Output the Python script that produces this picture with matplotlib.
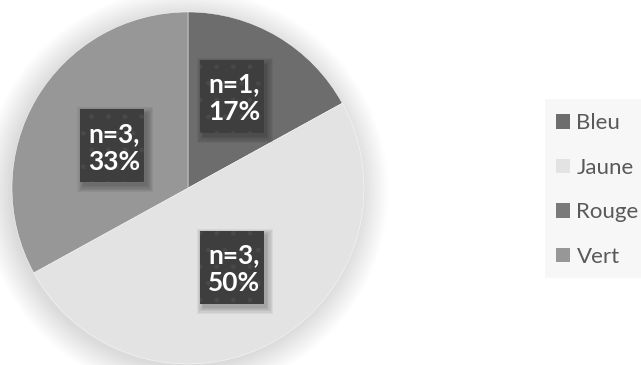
import matplotlib
matplotlib.use("Agg")
import matplotlib.pyplot as plt
from matplotlib.patches import Rectangle, Circle
import numpy as np

# Data
categories = ["Bleu", "Jaune", "Rouge", "Vert"]
percents = [17, 50, 0, 33]
counts = [1, 3, 0, 3]
colors = ["#6d6d6d", "#e3e3e3", "#7a7a7a", "#979797"]

# Label anchor points (axes data units, pie radius = 1)
label_pos = {"Bleu": (0.25, 0.52), "Jaune": (0.25, -0.45), "Vert": (-0.43, 0.24)}

W, H, DPI = 641, 365, 100
fig = plt.figure(figsize=(W / DPI, H / DPI), dpi=DPI)
fig.patch.set_facecolor("white")

cx, cy, r = 188, 188, 176
ax = fig.add_axes([(cx - r) / W, (H - cy - r) / H, 2 * r / W, 2 * r / H])
ax.set_xlim(-1, 1)
ax.set_ylim(-1, 1)
ax.axis("off")

# Soft outer shadow under the pie
for i in range(18):
    rr = 0.99 + (i + 1) * 0.009
    ax.add_patch(Circle((-0.015, -0.02), rr, facecolor="black", alpha=0.009,
                        edgecolor="none", clip_on=False, zorder=0))

wedges, _ = ax.pie(percents, colors=colors, startangle=90, counterclock=False,
                   radius=1.0, wedgeprops=dict(edgecolor="white", linewidth=0.3))
for w in wedges:
    w.set_zorder(2)
ax.set_xlim(-1, 1)
ax.set_ylim(-1, 1)

px = 1.0 / r  # one pixel in data units
bw, bh = 64 * px, 73 * px
for cat, pct, n in zip(categories, percents, counts):
    if pct == 0:
        continue
    x, y = label_pos[cat]
    # box shadow
    for k in range(6):
        grow = k * 1.2 * px
        ax.add_patch(Rectangle((x - bw / 2 + 3 * px - grow, y - bh / 2 - 4 * px - grow),
                               bw + 2 * grow, bh + 2 * grow, facecolor="black",
                               alpha=0.05, edgecolor="none", zorder=3))
    ax.add_patch(Rectangle((x - bw / 2, y - bh / 2), bw, bh, facecolor="#3e3e3e",
                           edgecolor="#494949", linewidth=0, hatch=".", zorder=4))
    ax.text(x + 2 * px, y - 2 * px, f"n={n},\n{pct}%", ha="center", va="center",
            multialignment="left", color="white", fontsize=19, fontweight="bold",
            family=["Lato", "DejaVu Sans"], linespacing=1.2, zorder=5)

# Legend panel
fig.patches.append(Rectangle((545 / W, (H - 278) / H), 100 / W, 179 / H,
                             transform=fig.transFigure, facecolor="#f7f7f7",
                             edgecolor="none", zorder=0))
leg = fig.legend(wedges, categories, loc="center left",
                 bbox_to_anchor=(556 / W, 1 - 190 / H), frameon=False,
                 prop={"family": "Lato", "size": 16}, labelcolor="#595959",
                 handlelength=0.62, handleheight=0.62, handletextpad=0.3,
                 labelspacing=1.1, borderpad=0, borderaxespad=0)
for h in leg.legend_handles:
    h.set_edgecolor("none")

fig.savefig("out.png", dpi=DPI, facecolor="white")
